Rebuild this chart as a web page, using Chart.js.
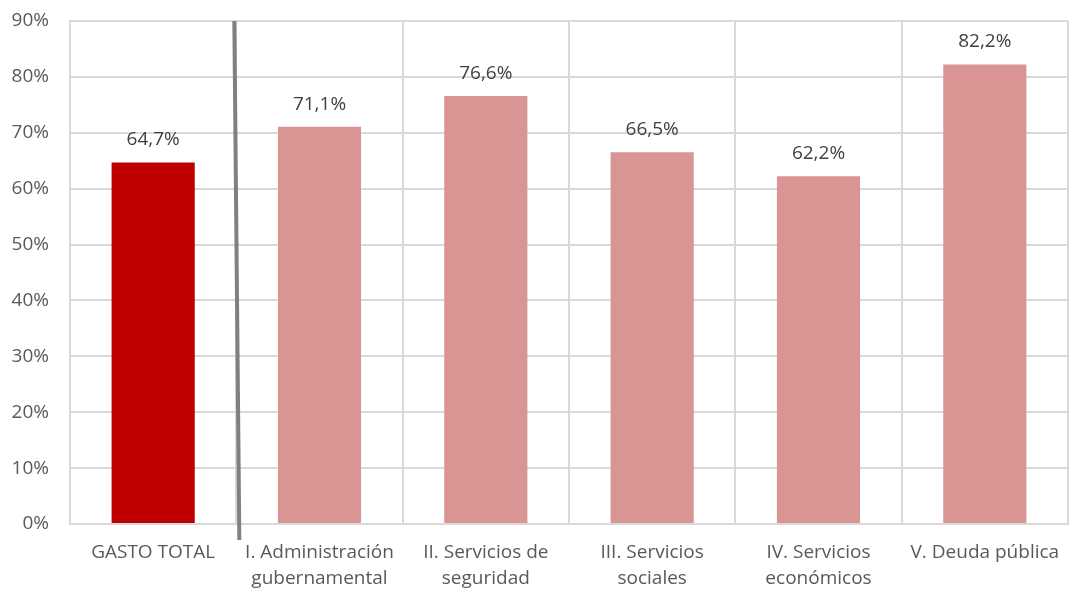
<!DOCTYPE html>
<html>
<head>
<meta charset="UTF-8">
<title>Gasto</title>
<script src="https://cdn.jsdelivr.net/npm/chart.js@4"></script>
<style>
  body { margin: 0; background: #fff; }
  .wrap { width: 1070px; height: 592px; }
</style>
</head>
<body>
<div class="wrap"><canvas id="myChart" width="1070" height="592"></canvas></div>
<script>
var categories = [
  'GASTO TOTAL',
  ['I. Administración', 'gubernamental'],
  ['II. Servicios de', 'seguridad'],
  ['III. Servicios', 'sociales'],
  ['IV. Servicios', 'económicos'],
  'V. Deuda pública'
];
var values = [64.7, 71.1, 76.6, 66.5, 62.2, 82.2];
var barColors = ['#C00000', '#D99594', '#D99594', '#D99594', '#D99594', '#D99594'];
var yTicks = [0, 10, 20, 30, 40, 50, 60, 70, 80, 90];

var fontFamily = "'Open Sans', 'Liberation Sans', sans-serif";

// value labels above the bars
var labelPlugin = {
  id: 'valueLabels',
  afterDatasetsDraw: function (chart) {
    var ctx = chart.ctx;
    var meta = chart.getDatasetMeta(0);
    ctx.save();
    ctx.font = '19px ' + fontFamily;
    ctx.fillStyle = '#404040';
    ctx.textAlign = 'center';
    ctx.textBaseline = 'bottom';
    meta.data.forEach(function (bar, i) {
      ctx.fillText(values[i].toFixed(1).replace('.', ',') + '%', bar.x, bar.y - 13);
    });
    ctx.restore();
  }
};

// grey separator between total and the groups
var separatorPlugin = {
  id: 'separator',
  afterDatasetsDraw: function (chart) {
    var ctx = chart.ctx;
    var x = chart.scales.x.getPixelForValue(0.5);
    var area = chart.chartArea;
    ctx.save();
    ctx.strokeStyle = '#808080';
    ctx.lineWidth = 4;
    ctx.beginPath();
    ctx.moveTo(x - 2, area.top);
    ctx.lineTo(x + 3, area.bottom + 16);
    ctx.stroke();
    ctx.restore();
  }
};

new Chart(document.getElementById('myChart'), {
  type: 'bar',
  data: {
    labels: categories,
    datasets: [{
      data: values,
      backgroundColor: barColors,
      categoryPercentage: 1,
      barPercentage: 0.5
    }]
  },
  options: {
    responsive: false,
    animation: false,
    layout: { padding: { top: 21, right: 2, left: 0, bottom: 0 } },
    plugins: { legend: { display: false }, tooltip: { enabled: false } },
    scales: {
      x: {
        grid: { color: '#D9D9D9', lineWidth: 2, offset: true, drawTicks: false },
        border: { color: '#D9D9D9', width: 2 },
        ticks: {
          color: '#595959',
          font: { family: fontFamily, size: 19, lineHeight: 1.35 },
          padding: 16,
          maxRotation: 0,
          autoSkip: false
        },
        afterFit: function (scale) {
          scale.height = 68;
          scale.paddingLeft = 0;
          scale.paddingRight = 0;
        }
      },
      y: {
        min: 0,
        max: 90,
        afterBuildTicks: function (scale) {
          scale.ticks = yTicks.map(function (v) { return { value: v }; });
        },
        grid: { color: '#D9D9D9', lineWidth: 2, drawTicks: false },
        border: { color: '#D9D9D9', width: 2 },
        ticks: {
          color: '#595959',
          font: { family: fontFamily, size: 19 },
          padding: 21,
          callback: function (v) { return v + '%'; }
        },
        afterFit: function (scale) {
          scale.width = 70;
          scale.paddingTop = 0;
          scale.paddingBottom = 0;
        }
      }
    }
  },
  plugins: [labelPlugin, separatorPlugin]
});
</script>
</body>
</html>
